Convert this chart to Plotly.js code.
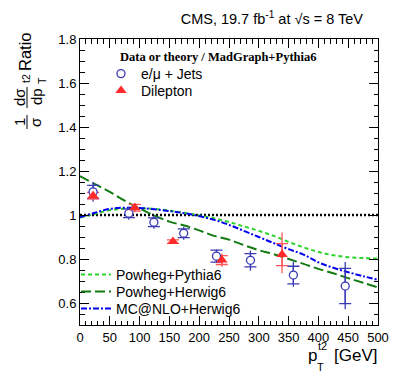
<!DOCTYPE html>
<html>
<head>
<meta charset="utf-8">
<script src="https://cdn.plot.ly/plotly-3.0.1.min.js"></script>
<style>
  body { margin: 0; background: white; }
  #plot { width: 399px; height: 383px; }
</style>
</head>
<body>
<div id="plot"></div>
<script>
// e/mu + jets, ratio to MadGraph+Pythia6
var ljX = [22, 82, 124, 174, 229, 286, 358, 445];
var ljRatio = [1.105, 1.008, 0.967, 0.917, 0.813, 0.794, 0.727, 0.677];
var ljStat = [0.03, 0.02, 0.02, 0.02, 0.027, 0.03, 0.04, 0.08];
var ljTotUp = [0.045, 0.03, 0.03, 0.03, 0.03, 0.044, 0.06, 0.109];
var ljTotDown = [0.045, 0.03, 0.03, 0.03, 0.03, 0.047, 0.053, 0.105];

// dilepton
var dlX = [22, 92, 156, 238, 339];
var dlRatio = [1.088, 1.033, 0.879, 0.795, 0.82];
var dlStat = [0.015, 0.015, 0.008, 0.02, 0.05];
var dlTotUp = [0.022, 0.02, 0.01, 0.03, 0.1];
var dlTotDown = [0.022, 0.02, 0.01, 0.03, 0.085];

// theory curves
var ptGrid = [0, 25, 50, 75, 100, 125, 150, 175, 200, 225, 250, 275, 300, 325, 350, 375, 400, 425, 450, 475, 500];
var powhegPythia = [0.988, 1.005, 1.022, 1.028, 1.03, 1.028, 1.02, 1.01, 0.998, 0.985, 0.968, 0.948, 0.928, 0.905, 0.878, 0.853, 0.832, 0.817, 0.808, 0.804, 0.802];
var powhegHerwig = [1.177, 1.14, 1.105, 1.065, 1.03, 0.997, 0.97, 0.952, 0.93, 0.905, 0.888, 0.863, 0.84, 0.822, 0.8, 0.778, 0.755, 0.735, 0.713, 0.692, 0.671];
var mcatnloHerwig = [0.99, 1.01, 1.028, 1.033, 1.032, 1.026, 1.018, 1.008, 0.995, 0.978, 0.955, 0.928, 0.9, 0.872, 0.845, 0.82, 0.785, 0.76, 0.74, 0.722, 0.705];

var refX = [0, 500];
var refY = [1, 1];

var font = "Liberation Sans, Arial, sans-serif";
var narrow = "Liberation Sans Narrow, Liberation Sans, Arial, sans-serif";
var blue = "#3a3ab4";
var red = "#ff2a2a";

// pixel -> paper helpers for the text bits
function px(x) { return (x - 80) / 298; }
function py(y) { return (325 - y) / 286; }

function oneLegend(x, y) {
  return {
    x: px(x), xanchor: "left", y: py(y), yanchor: "middle",
    bgcolor: "rgba(0,0,0,0)", font: { family: font, size: 14 }, itemwidth: 30
  };
}

function yPiece(text, x, y, size) {
  return { text: text, textangle: -90, xref: "paper", yref: "paper", x: px(x), y: py(y),
    xanchor: "center", yanchor: "middle", showarrow: false, font: { size: size } };
}

var data = [
  { x: refX, y: refY, mode: "lines", showlegend: false, hoverinfo: "skip",
    line: { color: "black", width: 2.5, dash: "2px,2px" } },
  { x: ptGrid, y: powhegPythia, mode: "lines", name: "Powheg+Pythia6", legend: "legend3",
    line: { color: "#2ad42a", width: 2, dash: "4px,3px", shape: "spline" } },
  { x: ptGrid, y: powhegHerwig, mode: "lines", name: "Powheg+Herwig6", legend: "legend4",
    line: { color: "#117a11", width: 2, dash: "10px,4px", shape: "spline" } },
  { x: ptGrid, y: mcatnloHerwig, mode: "lines", name: "MC@NLO+Herwig6", legend: "legend5",
    line: { color: "#0000ee", width: 2, dash: "6px,2px,2px,2px", shape: "spline" } },
  // error bars (total, then stat with caps)
  { x: ljX, y: ljRatio, mode: "markers", showlegend: false, hoverinfo: "skip",
    marker: { size: 1, color: "rgba(0,0,0,0)" },
    error_y: { type: "data", symmetric: false, array: ljTotUp, arrayminus: ljTotDown, width: 0, thickness: 1.3, color: blue } },
  { x: ljX, y: ljRatio, mode: "markers", showlegend: false, hoverinfo: "skip",
    marker: { size: 1, color: "rgba(0,0,0,0)" },
    error_y: { type: "data", array: ljStat, width: 6, thickness: 1.3, color: blue } },
  { x: dlX, y: dlRatio, mode: "markers", showlegend: false, hoverinfo: "skip",
    marker: { size: 1, color: "rgba(0,0,0,0)" },
    error_y: { type: "data", symmetric: false, array: dlTotUp, arrayminus: dlTotDown, width: 0, thickness: 1.3, color: "#ff5555" } },
  { x: dlX, y: dlRatio, mode: "markers", showlegend: false, hoverinfo: "skip",
    marker: { size: 1, color: "rgba(0,0,0,0)" },
    error_y: { type: "data", array: dlStat, width: 6, thickness: 1.3, color: "#ff5555" } },
  { x: ljX, y: ljRatio, mode: "markers", name: "e/\u03bc + Jets", legend: "legend",
    marker: { symbol: "circle", size: 8, color: "white", line: { color: blue, width: 1.3 } } },
  { x: dlX, y: dlRatio, mode: "markers", name: "Dilepton", legend: "legend2",
    marker: { symbol: "triangle-up", size: 10, color: red } }
];

var layout = {
  width: 399,
  height: 383,
  margin: { l: 80, r: 21, t: 39, b: 58 },
  paper_bgcolor: "white",
  plot_bgcolor: "white",
  font: { family: font, color: "black" },
  title: {
    text: "CMS, 19.7 fb<sup>-1</sup> at \u221as = 8 TeV",
    x: 363 / 399, xanchor: "right", xref: "container",
    y: 1 - 19 / 383, yanchor: "middle",
    font: { family: font, size: 14.5, color: "black" }
  },
  xaxis: {
    range: [0, 500], tick0: 0, dtick: 50,
    ticks: "inside", ticklen: 9, tickcolor: "black", mirror: "allticks",
    showline: true, linecolor: "black", linewidth: 1,
    showgrid: false, zeroline: false,
    minor: { dtick: 10, ticks: "inside", ticklen: 4.5, tickcolor: "black" },
    tickfont: { family: narrow, size: 13, color: "black" }
  },
  yaxis: {
    range: [0.5, 1.8], tick0: 0, dtick: 0.2,
    ticks: "inside", ticklen: 9, tickcolor: "black", mirror: "allticks",
    showline: true, linecolor: "black", linewidth: 1,
    showgrid: false, zeroline: false,
    minor: { dtick: 0.05, ticks: "inside", ticklen: 4.5, tickcolor: "black" },
    tickfont: { family: narrow, size: 13, color: "black" }
  },
  legend: oneLegend(101, 74),
  legend2: oneLegend(101, 91),
  legend3: oneLegend(76, 275),
  legend4: oneLegend(76, 292),
  legend5: oneLegend(76, 309),
  shapes: [
    { type: "line", xref: "paper", yref: "paper", x0: px(27), x1: px(27), y0: py(115), y1: py(129), line: { color: "black", width: 1 } },
    { type: "line", xref: "paper", yref: "paper", x0: px(27), x1: px(27), y0: py(87), y1: py(108), line: { color: "black", width: 1 } }
  ],
  annotations: [
    { text: "<b>Data or theory / MadGraph+Pythia6</b>", xref: "paper", yref: "paper",
      x: px(118), y: py(57), xanchor: "left", yanchor: "middle", showarrow: false,
      font: { family: "Liberation Serif, Times New Roman, serif", size: 12.5 } },
    // y title pieces
    yPiece("Ratio", 25, 52, 16.5),
    yPiece("1", 19, 122, 15),
    yPiece("\u03c3", 35, 122, 15),
    yPiece("d\u03c3", 19, 97, 15),
    yPiece("dp", 36, 97, 15),
    yPiece("t2", 26, 79, 10.5),
    yPiece("T", 42, 81, 10.5),
    // x title pieces
    { text: "p", xref: "paper", yref: "paper", x: px(312), y: py(355),
      xanchor: "center", yanchor: "middle", showarrow: false, font: { size: 17 } },
    { text: "t2", xref: "paper", yref: "paper", x: px(322), y: py(346),
      xanchor: "center", yanchor: "middle", showarrow: false, font: { size: 11 } },
    { text: "T", xref: "paper", yref: "paper", x: px(320), y: py(367),
      xanchor: "center", yanchor: "middle", showarrow: false, font: { size: 11 } },
    { text: "[GeV]", xref: "paper", yref: "paper", x: px(379), y: py(355),
      xanchor: "right", yanchor: "middle", showarrow: false, font: { size: 17 } }
  ]
};

Plotly.newPlot("plot", data, layout, { displayModeBar: false, staticPlot: true });
</script>
</body>
</html>
